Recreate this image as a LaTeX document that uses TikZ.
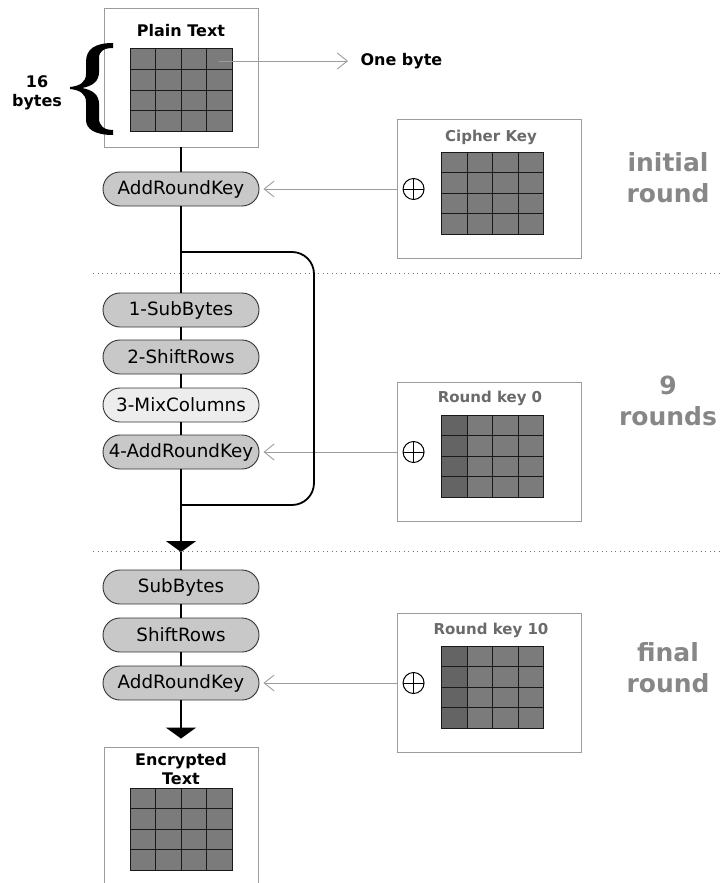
\documentclass[tikz,border=0pt]{standalone}
\usepackage{fontspec}
\setmainfont{DejaVu Sans}
\usetikzlibrary{arrows.meta, positioning, calc}
\definecolor{aesPill}{HTML}{C8C8C8}
\definecolor{aesPillLight}{HTML}{EDEDED}
\definecolor{aesCell}{HTML}{7B7B7B}
\definecolor{aesCellDark}{HTML}{646464}
\definecolor{aesFrame}{HTML}{9C9C9C}
\definecolor{aesLabel}{HTML}{878787}
\definecolor{aesTitle}{HTML}{6A6A6A}

\begin{document}
\begin{tikzpicture}[
  x=1pt, y=-1pt,
  frame/.style={draw=aesFrame, line width=0.9pt, inner sep=0pt,
                minimum width=154pt, minimum height=139pt},
  keybox/.style={frame, minimum width=184pt, minimum height=139pt},
  pill/.style={draw=black!80, line width=0.9pt, fill=aesPill, rounded corners=17pt,
               minimum width=156pt, minimum height=34pt, inner sep=0pt,
               font=\fontsize{18.3}{18}\selectfont},
  lightpill/.style={pill, fill=aesPillLight},
  boxtitle/.style={font=\bfseries\fontsize{16}{19}\selectfont, align=center},
  keytitle/.style={font=\bfseries\fontsize{15}{15}\selectfont, text=aesTitle},
  roundlabel/.style={font=\bfseries\fontsize{25}{31}\selectfont, text=aesLabel, align=center},
  xor/.style={circle, draw, line width=1pt, minimum size=21pt, inner sep=0pt,
              path picture={\draw[line width=1pt]
                (path picture bounding box.north) -- (path picture bounding box.south)
                (path picture bounding box.west) -- (path picture bounding box.east);}},
  flow/.style={line width=1.8pt},
  down/.style={flow, -{Triangle[length=11pt, width=30pt]}},
  feed/.style={draw=aesFrame, line width=0.9pt, -{Straight Barb[length=10pt, width=16pt]},
               shorten >=4pt},
  divider/.style={draw=black!55, line width=1pt, dash pattern=on 1pt off 3.5pt},
  gridline/.style={draw=black!90, line width=1pt},
  pics/bytegrid/.style={code={
    \fill[aesCell] (0,0) rectangle (102,82);
    \fill[#1] (0,0) rectangle (25.5,82);
    \foreach \i in {1,2,3} {
      \draw[gridline] (\i*25.5,0) -- ++(0,82);
      \draw[gridline] (0,\i*20.5) -- ++(102,0);
    }
    \draw[gridline] (0,0) rectangle (102,82);
  }},
]
\clip (0,0) rectangle (721,883);

\draw[divider] (93,273) -- (721,273);
\draw[divider] (93,551) -- (721,551);

\node[frame] (plain) at (181,77.5) {};
\node[boxtitle] (plainlbl) at (181,31) {Plain Text};
\pic at (130,49) {bytegrid=aesCell};
\coordinate (byte) at (219,61);
\node[boxtitle, anchor=west] (onebyte) at (357,61) {One byte};
\draw[feed, shorten >=9pt] (byte) -- (onebyte.west);
\node[boxtitle] (sixteen) at (37,93) {16\\bytes};
\fill (113,43) .. controls (95,43) and (86,49) .. (86,62) -- (86,74)
  .. controls (86,82) and (80,86) .. (70,87) -- (70,89)
  .. controls (80,90) and (86,94) .. (86,102) -- (86,120)
  .. controls (86,129) and (95,135) .. (113,135) -- (113,130)
  .. controls (104,130) and (99,126) .. (99,118) -- (99,104)
  .. controls (99,95) and (93,90) .. (82,88)
  .. controls (93,86) and (99,81) .. (99,72) -- (99,58)
  .. controls (99,51) and (104,48) .. (113,48) -- cycle;

\node[pill] (ark0) at (181,189) {AddRoundKey};
\node[keybox] (ckey) at (489,189) {};
\node[keytitle] (ckeylbl) at (491,137) {Cipher Key};
\pic at ($(ckey.north west)+(45,33)$) {bytegrid=aesCell};
\node[xor, right=6pt of ckey.west] (xor0) {};
\draw[feed] (ckey.west) -- (ark0.east);
\node[roundlabel] (initlbl) at (668,178) {initial\\round};

\node[pill] (sb) at (181,310) {1-SubBytes};
\node[pill] (sr) at (181,357) {2-ShiftRows};
\node[lightpill] (mc) at (181,405) {3-MixColumns};
\node[pill] (ark) at (181,452) {4-AddRoundKey};
\node[keybox] (rkey) at (489,452) {};
\node[keytitle] (rkeylbl) at (490,398) {Round key 0};
\pic at ($(rkey.north west)+(45,33)$) {bytegrid=aesCellDark};
\node[xor, right=6pt of rkey.west] (xor1) {};
\draw[feed] (rkey.west) -- (ark.east);
\node[roundlabel] (ninelbl) at (668,401) {9\\rounds};

\node[pill] (fsb) at (181,587) {SubBytes};
\node[pill] (fsr) at (181,635) {ShiftRows};
\node[pill] (fark) at (181,683) {AddRoundKey};
\node[keybox] (fkey) at (489,683) {};
\node[keytitle] (fkeylbl) at (491,630) {Round key 10};
\pic at ($(fkey.north west)+(45,33)$) {bytegrid=aesCellDark};
\node[xor, right=6pt of fkey.west] (xor2) {};
\draw[feed] (fkey.west) -- (fark.east);
\node[roundlabel] (finallbl) at (668,668) {final\\round};

\node[frame, minimum height=150pt] (enc) at (181,822) {};
\node[boxtitle] (enclbl) at (181,769) {Encrypted\\Text};
\pic at (130,788) {bytegrid=aesCell};

\coordinate (looptop) at (181,252);
\coordinate (loopbot) at (181,505);
\coordinate (join) at (181,552);
\draw[flow] (plain) -- (ark0);
\draw[flow] (ark0) -- (sb);
\draw[flow] (sb) -- (sr);
\draw[flow] (sr) -- (mc);
\draw[flow] (mc) -- (ark);
\draw[flow, rounded corners=22pt] (looptop) -| (314,380) |- (loopbot);
\draw[down] (ark) -- (join);
\draw[flow] (join) -- (fsb);
\draw[flow] (fsb) -- (fsr);
\draw[flow] (fsr) -- (fark);
\draw[down, shorten >=8pt] (fark) -- (enc);
\end{tikzpicture}
\end{document}
